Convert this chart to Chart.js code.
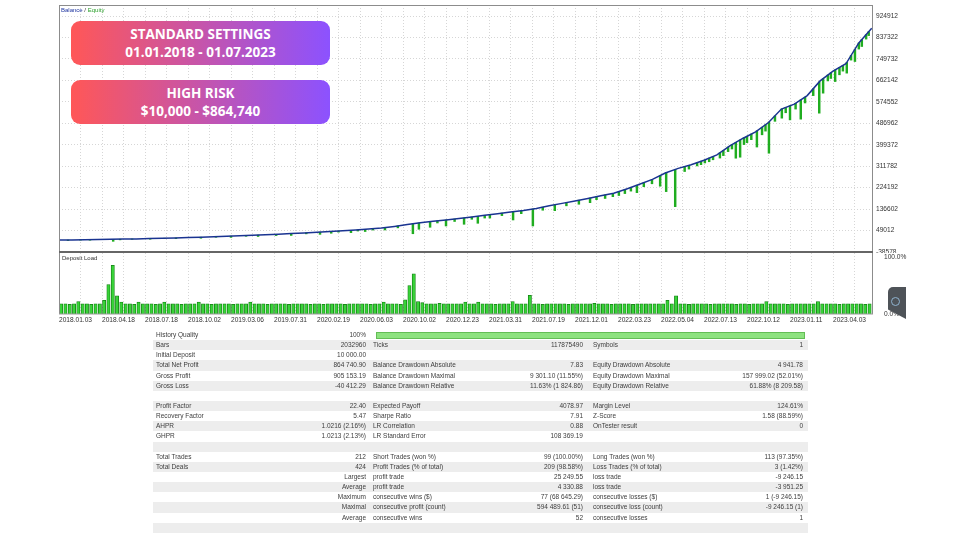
<!DOCTYPE html>
<html>
<head>
<meta charset="utf-8">
<script src="https://cdn.jsdelivr.net/npm/chart.js@4.4.0/dist/chart.umd.min.js"></script>
<style>
html,body{margin:0;padding:0;background:#fff;}
body{width:960px;height:540px;position:relative;overflow:hidden;font-family:"Liberation Sans",Arial,sans-serif;}
canvas{position:absolute;left:0;}
#mainC{top:0;}
#loadC{top:253px;background:#fff;}
.banner{position:absolute;left:71px;width:259px;height:44px;border-radius:9px;
  background:linear-gradient(90deg,#ff5757,#8c52ff);color:#fff;font-family:"Open Sans",sans-serif;
  font-weight:700;font-size:13.5px;line-height:18px;text-align:center;padding-top:4px;box-sizing:border-box;z-index:3;}
.lbl{position:absolute;font-size:6px;line-height:8px;white-space:nowrap;z-index:3;color:#333;}
#stats{position:absolute;left:153px;top:330px;width:655px;font-size:6.5px;color:#3d3d3d;}
.row{position:relative;height:10.15px;}
.row:nth-child(even){background:#ededed;}
.row span{position:absolute;top:0;line-height:10.15px;white-space:nowrap;}
.c1{left:3px}.c2{right:442px}.c3{left:220px}.c4{right:225px}.c5{left:440px}.c6{right:5px}
.hq{position:absolute;left:223px;top:1.5px;width:429px;height:7.5px;background:#8de27f;border:1px solid #63bd55;box-sizing:border-box;}
#icon{position:absolute;left:888px;top:287px;width:18px;height:32px;background:#4e5358;border-radius:5px 0 0 0;z-index:4;
  clip-path:polygon(0 0,100% 0,100% 100%,0 70%);}
#icon div{position:absolute;left:3px;top:10px;width:9px;height:9px;border:1.5px solid #8fb3cf;border-radius:50%;box-sizing:border-box;}
</style>
</head>
<body>
<canvas id="mainC" width="960" height="260"></canvas>
<canvas id="loadC" width="960" height="76"></canvas>

<div class="lbl" style="left:61px;top:6px;"><span style="color:#1f35a0">Balance</span> / <span style="color:#2ca02c">Equity</span></div>
<div class="lbl" style="left:62px;top:254px;">Deposit Load</div>

<div class="banner" style="top:21px;">STANDARD SETTINGS<br>01.01.2018 - 01.07.2023</div>
<div class="banner" style="top:80px;">HIGH RISK<br>$10,000 - $864,740</div>

<div id="icon"><div></div></div>
<div id="stats"></div>

<script>
// ---------- data ----------
const dateLabels = ["2018.01.03","2018.04.18","2018.07.18","2018.10.02","2019.03.06","2019.07.31",
  "2020.02.19","2020.06.03","2020.10.02","2020.12.23","2021.03.31","2021.07.19","2021.12.01",
  "2022.03.23","2022.05.04","2022.07.13","2022.10.12","2023.01.11","2023.04.03"];

const yTickValues = [-38578, 49012, 136602, 224192, 311782, 399372, 486962, 574552, 662142, 749732, 837322, 924912];
const loadTickValues = [0, 100];

// balance, one value every 3 trades (trade axis)
const balance = [
  10000, 10800, 11500, 12300, 13100, 14000, 15000, 16200, 17400, 18800,
  20300, 22000, 23800, 25700, 27600, 29600, 31800, 34000, 36500, 39000,
  41800, 44800, 48000, 51500, 55000, 59000, 66000, 74000, 81000, 87000,
  92000, 98000, 104000, 111000, 118000, 125000, 131000, 139000, 150000, 160000,
  170000, 180000, 191000, 201000, 219000, 238000, 258000, 284000, 303000, 318000,
  336000, 358000, 395000, 425000, 452000, 490000, 545000, 565000, 600000, 660000,
  700000, 730000, 815000, 874740
];

// equity drawdown spikes: trade position, equity before, equity low
const dipPos  = [2.1, 5, 7.2, 12.6, 14.2, 17, 21.2, 24.5, 27.2, 33, 36.5, 40, 43.5, 46.3, 50.5, 54, 57.5,
  60.7, 63.3, 65, 67.9, 69.5, 71.2, 73,
  75.8, 78.8, 82.3, 83.7, 86.3, 88, 90, 92, 94.2, 96, 97.4, 99, 100.2, 103, 105.6, 107.5, 110.2, 112.5,
  115.3, 118, 120.9, 123.5, 125, 127, 128.8, 130.2, 131.6, 133, 134.4, 136, 137.9, 139.8, 141.2, 143.3,
  145.5, 146.5, 148.4, 149.3, 150.2, 151.2, 152.1, 153.7, 154.5, 155.6, 156.5, 157.4, 158.4, 159.3, 160,
  161, 162.3, 163.5, 164.3, 165.1, 166.5, 168.1, 169, 170, 171.3, 172.5, 173.5, 175.4, 176.8, 177.7,
  178.8, 179.5, 180.5, 181.5, 182.3, 183.2, 184.2, 185.1, 186, 186.7, 187.7, 188.3];
const dipHigh = [10300, 11250, 11700, 13200, 13700, 14650, 16300, 17600, 18900, 22000, 24100, 26300, 28600, 30600, 33700, 36500, 39400,
  42500, 45000, 46900, 50000, 52000, 54000, 56300,
  61000, 68100, 77000, 80000, 86000, 88700, 92000, 96000, 100400, 104000, 107000, 111000, 113800, 120300, 126200, 130000, 136900, 144500,
  154300, 163300, 173000, 181800, 187000, 194300, 200300, 208200, 216600, 225300, 234200, 244700, 257300, 273000, 286000, 299000,
  310500, 315000, 326400, 332000, 337000, 345000, 351400, 366600, 376500, 390000, 400000, 409000, 419000, 427700, 434000,
  443000, 455800, 471000, 481000, 491800, 517000, 545700, 551700, 558300, 568500, 582500, 594000, 628000, 656000, 669000,
  684000, 693000, 705000, 715000, 723000, 735700, 764000, 788500, 815000, 829000, 848800, 861000];
const dipLow  = [8100, 10000, 9600, 5000, 11000, 13200, 13500, 15800, 15800, 17500, 21500, 21000, 25500, 24800, 28500, 29000, 35500,
  33500, 38000, 42500, 40500, 47000, 45000, 51000,
  51300, 60000, 36000, 54200, 62400, 80000, 67700, 86000, 74600, 95000, 78700, 100000, 100000, 110000, 92200, 118000, 67700, 132000,
  130200, 150000, 156400, 162900, 175000, 180000, 187400, 192000, 200000, 210000, 203800, 228000, 240000, 230000, 208000, 146600,
  290000, 300000, 312900, 318000, 325000, 330000, 338000, 345000, 355000, 371300, 382000, 344400, 348500, 400000, 408000,
  420000, 390000, 440000, 455000, 364800, 495000, 507900, 530000, 500900, 545000, 503800, 570000, 600000, 528300, 610000,
  660000, 670000, 657400, 685000, 700000, 691800, 745000, 739200, 790000, 800500, 830700, 845000];

// deposit load (%) per trade
const depositLoad = [
  18,18,17,18,22,18,18,17,18,18,
  24,52,86,32,21,18,18,17,21,18,
  18,18,17,18,21,18,18,18,17,18,
  18,18,21,18,18,17,18,18,18,18,
  17,18,18,18,21,18,18,18,17,18,
  18,18,18,17,18,18,18,18,17,18,
  18,17,18,18,18,18,17,18,18,18,
  18,18,17,18,18,21,18,18,18,17,
  25,50,71,22,20,18,18,18,19,18,
  18,18,18,18,21,18,18,21,18,18,
  18,17,18,18,18,22,18,18,18,33,
  18,18,17,18,18,18,18,18,17,18,
  18,18,18,18,19,18,18,18,17,18,
  18,18,18,17,18,18,18,18,18,18,
  18,24,18,32,18,18,17,18,18,18,
  18,17,18,18,18,18,18,17,18,18,
  17,18,18,18,22,18,18,18,18,17,
  18,18,18,18,18,18,22,18,18,18,
  18,17,18,18,18,18,18,17,18
];

const statsRows = [
  ["History Quality","100%","","","",""],
  ["Bars","2032960","Ticks","117875490","Symbols","1"],
  ["Initial Deposit","10 000.00","","","",""],
  ["Total Net Profit","864 740.90","Balance Drawdown Absolute","7.83","Equity Drawdown Absolute","4 941.78"],
  ["Gross Profit","905 153.19","Balance Drawdown Maximal","9 301.10 (11.55%)","Equity Drawdown Maximal","157 999.02 (52.01%)"],
  ["Gross Loss","-40 412.29","Balance Drawdown Relative","11.63% (1 824.86)","Equity Drawdown Relative","61.88% (8 209.58)"],
  ["","","","","",""],
  ["Profit Factor","22.40","Expected Payoff","4078.97","Margin Level","124.61%"],
  ["Recovery Factor","5.47","Sharpe Ratio","7.91","Z-Score","1.58 (88.59%)"],
  ["AHPR","1.0216 (2.16%)","LR Correlation","0.88","OnTester result","0"],
  ["GHPR","1.0213 (2.13%)","LR Standard Error","108 369.19","",""],
  ["","","","","",""],
  ["Total Trades","212","Short Trades (won %)","99 (100.00%)","Long Trades (won %)","113 (97.35%)"],
  ["Total Deals","424","Profit Trades (% of total)","209 (98.58%)","Loss Trades (% of total)","3 (1.42%)"],
  ["","Largest","profit trade","25 249.55","loss trade","-9 246.15"],
  ["","Average","profit trade","4 330.88","loss trade","-3 951.25"],
  ["","Maximum","consecutive wins ($)","77 (68 645.29)","consecutive losses ($)","1 (-9 246.15)"],
  ["","Maximal","consecutive profit (count)","594 489.61 (51)","consecutive loss (count)","-9 246.15 (1)"],
  ["","Average","consecutive wins","52","consecutive losses","1"],
  ["","","","","",""]
];
const historyQuality = 100;

// ---------- table ----------
const stats = document.getElementById('stats');
statsRows.forEach((r, ri) => {
  const row = document.createElement('div');
  row.className = 'row';
  r.forEach((t, ci) => {
    if (!t) return;
    const s = document.createElement('span');
    s.className = 'c' + (ci + 1);
    s.textContent = t;
    row.appendChild(s);
  });
  if (ri === 0) {
    const b = document.createElement('div');
    b.className = 'hq';
    b.style.width = (429 * historyQuality / 100) + 'px';
    row.appendChild(b);
  }
  stats.appendChild(row);
});

// ---------- charts ----------
const X_MAX = 189.3;
const GRID_STEP = 5;
const gridColor = '#d6d6d6';
const tickFont = {family: '"Liberation Sans", Arial, sans-serif', size: 6.6};
const tickColor = '#333';

const framePlugin = {
  id: 'frame',
  afterDraw(chart, args, o) {
    const a = chart.chartArea, ctx = chart.ctx;
    ctx.save();
    ctx.strokeStyle = o.color; ctx.lineWidth = o.width;
    ctx.beginPath();
    if (o.top) { ctx.moveTo(a.left, a.top + 0.5); ctx.lineTo(a.right, a.top + 0.5); }
    ctx.moveTo(a.left + 0.5, a.top); ctx.lineTo(a.left + 0.5, a.bottom);
    ctx.moveTo(a.right - 0.5, a.top); ctx.lineTo(a.right - 0.5, a.bottom);
    ctx.stroke();
    ctx.lineWidth = o.bottomWidth; ctx.strokeStyle = o.bottomColor;
    ctx.beginPath(); ctx.moveTo(a.left, a.bottom); ctx.lineTo(a.right, a.bottom); ctx.stroke();
    ctx.restore();
  }
};

function gridTicks(scale) {
  const t = [];
  for (let v = 0; v < X_MAX; v += GRID_STEP) t.push({value: v});
  scale.ticks = t;
}

new Chart(document.getElementById('mainC'), {
  type: 'line',
  data: {
    datasets: [
      {
        type: 'line', label: 'Balance',
        data: balance.map((v, i) => ({x: i * 3, y: v})),
        borderColor: '#1a3491', borderWidth: 1.5, pointRadius: 0, tension: 0, order: 0
      },
      {
        type: 'bar', label: 'Equity',
        data: dipPos.map((x, i) => ({x: x, y: [dipLow[i], dipHigh[i]]})),
        backgroundColor: '#20ad20', barThickness: 1.8, order: 1
      }
    ]
  },
  options: {
    responsive: false, animation: false, events: [],
    layout: {padding: {left: 59, top: 5, bottom: 8, right: 0}},
    plugins: {
      legend: {display: false}, tooltip: {enabled: false},
      frame: {color: '#8c8c8c', width: 1, top: true, bottomWidth: 2, bottomColor: '#666'}
    },
    scales: {
      x: {
        type: 'linear', min: 0, max: X_MAX, offset: false,
        grid: {color: gridColor, drawTicks: false, offset: false},
        border: {display: false, dash: [1, 2]},
        ticks: {display: false},
        afterBuildTicks: gridTicks,
        afterFit: s => { s.height = 0; s.paddingLeft = 0; s.paddingRight = 0; }
      },
      y: {
        position: 'right', min: -38578, max: 970000,
        grid: {color: gridColor, drawTicks: false},
        border: {display: false, dash: [1, 2]},
        ticks: {font: tickFont, color: tickColor, padding: 3, callback: v => String(v)},
        afterBuildTicks: s => { s.ticks = yTickValues.map(v => ({value: v})); },
        afterFit: s => { s.width = 87; s.paddingTop = 0; s.paddingBottom = 0; }
      }
    }
  },
  plugins: [framePlugin]
});

new Chart(document.getElementById('loadC'), {
  type: 'bar',
  data: {
    datasets: [{
      label: 'Deposit Load',
      data: depositLoad.map((v, i) => ({x: i + 0.5, y: v})),
      backgroundColor: '#38d338', borderColor: '#127f12', borderWidth: 0.8, barThickness: 3.3
    }]
  },
  options: {
    responsive: false, animation: false, events: [],
    layout: {padding: {left: 59, top: 0, bottom: 0, right: 0}},
    plugins: {
      legend: {display: false}, tooltip: {enabled: false},
      frame: {color: '#8c8c8c', width: 1, top: false, bottomWidth: 1, bottomColor: '#9a9a9a'}
    },
    scales: {
      x: {
        type: 'linear', min: 0, max: X_MAX, offset: false,
        grid: {color: gridColor, drawTicks: false, offset: false},
        border: {display: false, dash: [1, 2]},
        ticks: {
          font: tickFont, color: tickColor, padding: 2, autoSkip: false, maxRotation: 0, minRotation: 0, align: 'start',
          callback: v => (v % (GRID_STEP * 2) === 0 ? (dateLabels[v / (GRID_STEP * 2)] || '') : '')
        },
        afterBuildTicks: gridTicks,
        afterFit: s => { s.height = 15; s.paddingLeft = 0; s.paddingRight = 0; }
      },
      y: {
        position: 'right', min: 0, max: 107.6,
        grid: {display: false},
        border: {display: false},
        ticks: {font: tickFont, color: tickColor, padding: 3, callback: v => v.toFixed(1) + '%'},
        afterBuildTicks: s => { s.ticks = loadTickValues.map(v => ({value: v})); },
        afterFit: s => { s.width = 87; s.paddingTop = 0; s.paddingBottom = 0; }
      }
    }
  },
  plugins: [framePlugin]
});
</script>
</body>
</html>
